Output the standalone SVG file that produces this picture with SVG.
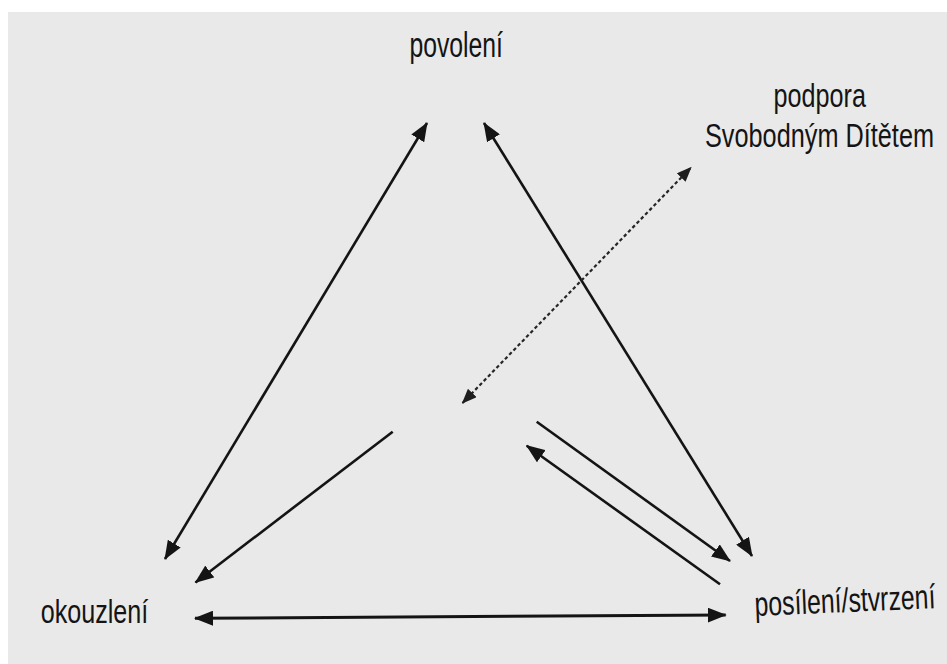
<svg xmlns="http://www.w3.org/2000/svg" width="947" height="664" viewBox="0 0 947 664">
  <style>
    .lbl { font-family: "Liberation Sans", Arial, sans-serif; fill: #141414; }
    .edge { stroke: #141414; stroke-width: 2.6; fill: none; }
    .thick { stroke-width: 3; }
    .dot { stroke: #262626; stroke-width: 2.2; stroke-dasharray: 3.5 2.6; fill: none; }
  </style>
  <defs>
    <marker id="ah" markerUnits="userSpaceOnUse" markerWidth="19" markerHeight="15" refX="18" refY="7.5" orient="auto-start-reverse">
      <path d="M0,0 L19,7.5 L0,15 Z" fill="#141414"/>
    </marker>
    <marker id="ahs" markerUnits="userSpaceOnUse" markerWidth="15" markerHeight="12" refX="14" refY="6" orient="auto-start-reverse">
      <path d="M0,0 L15,6 L0,12 Z" fill="#1e1e1e"/>
    </marker>
  </defs>

  <rect x="0" y="0" width="947" height="664" fill="#ffffff"/>
  <rect x="8" y="12" width="939" height="652" fill="#e9e9e9"/>

  <g id="povoleni">
    <text class="lbl" transform="translate(409.5 57.3) scale(1 1.41)" x="0" y="0" font-size="24.7" textLength="93.5" lengthAdjust="spacingAndGlyphs">povolení</text>
  </g>
  <g id="podpora">
    <text class="lbl" transform="translate(773.5 106.7) scale(1 1.31)" x="0" y="0" font-size="25.2" textLength="92.4" lengthAdjust="spacingAndGlyphs">podpora</text>
    <text class="lbl" transform="translate(705 147.3) scale(1 1.32)" x="0" y="0" font-size="25.3" textLength="229" lengthAdjust="spacingAndGlyphs">Svobodným Dítětem</text>
  </g>
  <g id="okouzleni">
    <text class="lbl" transform="translate(40.7 622.7) scale(1 1.29)" x="0" y="0" font-size="25.1" textLength="107.6" lengthAdjust="spacingAndGlyphs">okouzlení</text>
  </g>
  <g id="posileni">
    <text class="lbl" transform="translate(755 616) rotate(-2.5) scale(1 1.37)" x="0" y="0" font-size="24.9" textLength="181" lengthAdjust="spacingAndGlyphs">posílení/stvrzení</text>
  </g>

  <g id="connectors">
    <line class="edge" x1="165" y1="559" x2="427" y2="123" marker-start="url(#ah)" marker-end="url(#ah)"/>
    <line class="edge" x1="484" y1="123" x2="752" y2="556" marker-start="url(#ah)" marker-end="url(#ah)"/>
    <line class="dot" x1="462.5" y1="403" x2="691" y2="167.5" marker-start="url(#ahs)" marker-end="url(#ahs)"/>
    <line class="edge" x1="392.7" y1="431.7" x2="195.5" y2="582.5" marker-end="url(#ah)"/>
    <line class="edge" x1="536.7" y1="421.7" x2="730" y2="561" marker-end="url(#ah)"/>
    <line class="edge" x1="720" y1="584.3" x2="526.7" y2="445.7" marker-end="url(#ah)"/>
    <line class="edge thick" x1="195" y1="618.3" x2="725.7" y2="615" marker-start="url(#ah)" marker-end="url(#ah)"/>
  </g>
</svg>
